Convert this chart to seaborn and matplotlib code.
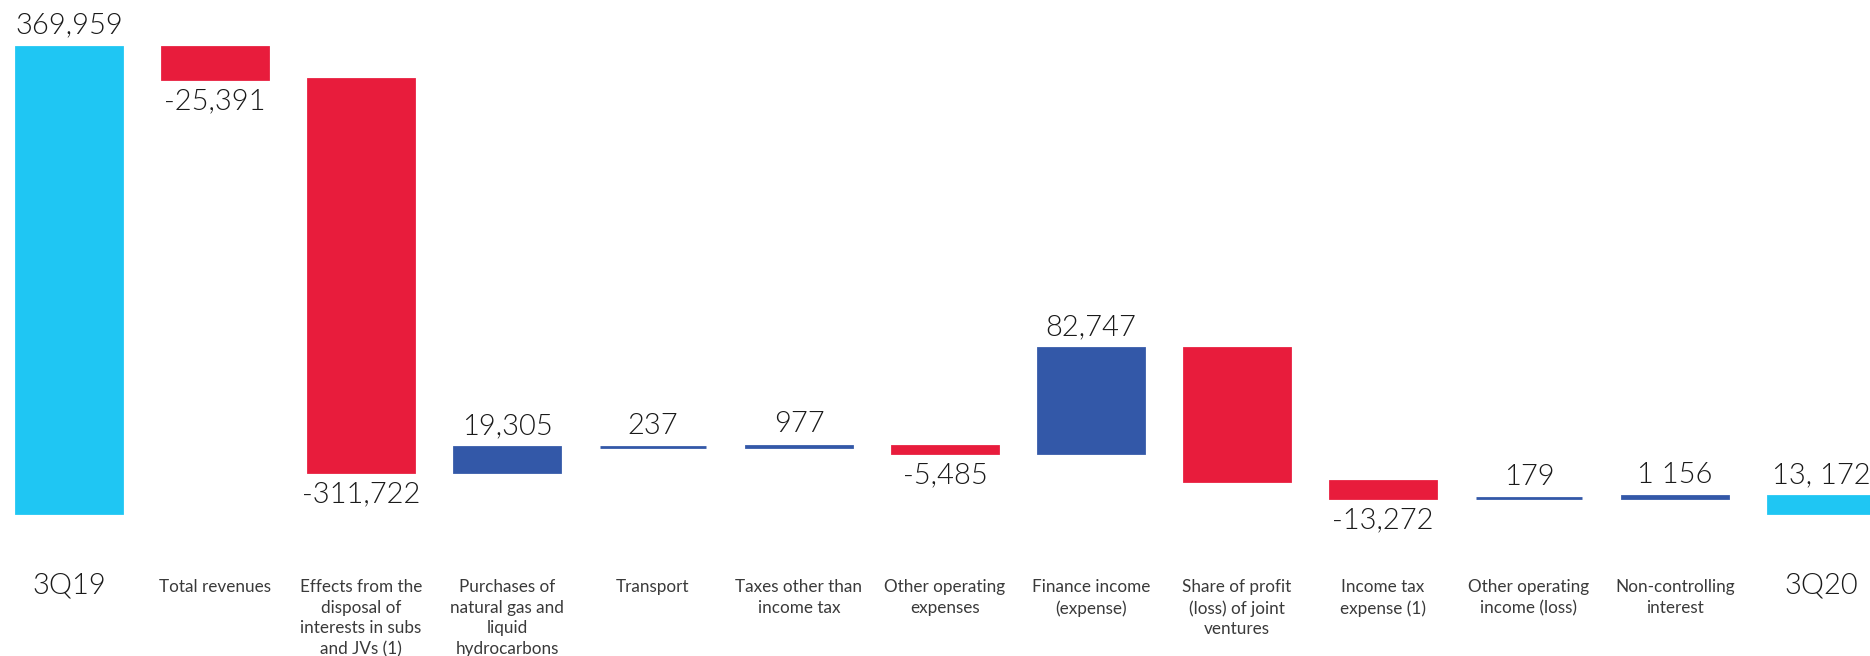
import matplotlib
matplotlib.use("Agg")
import matplotlib.pyplot as plt
import matplotlib.transforms as mtransforms
import seaborn as sns
import pandas as pd

# Profit bridge 3Q19 -> 3Q20 (thousand units)
categories = [
    "3Q19",
    "Total revenues",
    "Effects from the\ndisposal of\ninterests in subs\nand JVs (1)",
    "Purchases of\nnatural gas and\nliquid\nhydrocarbons",
    "Transport",
    "Taxes other than\nincome tax",
    "Other operating\nexpenses",
    "Finance income\n(expense)",
    "Share of profit\n(loss) of joint\nventures",
    "Income tax\nexpense (1)",
    "Other operating\nincome (loss)",
    "Non-controlling\ninterest",
    "3Q20",
]
start_value = 369959
changes = [-25391, -311722, 19305, 237, 977, -5485, 82747, -105518, -13272, 179, 1156]
end_value = 13172
value_labels = ["369,959", "-25,391", "-311,722", "19,305", "237", "977", "-5,485",
                "82,747", "", "-13,272", "179", "1 156", "13, 172"]

CYAN, RED, BLUE = "#1FC6F3", "#E81C3C", "#3358A8"

# Build waterfall segments: bottoms and signed heights
heights = [start_value] + changes + [end_value]
bottoms = [0]
running = start_value
for d in changes:
    bottoms.append(running)
    running += d
bottoms.append(0)
kinds = ["total"] + ["pos" if d >= 0 else "neg" for d in changes] + ["total"]
colors = [CYAN if k == "total" else (BLUE if k == "pos" else RED) for k in kinds]

df = pd.DataFrame({"category": categories, "height": heights})

sns.set_theme(style="white")
plt.rcParams["font.family"] = ["Lato", "DejaVu Sans"]

fig = plt.figure(figsize=(18.7, 6.56), dpi=100)
ax = fig.add_axes([0, 0, 1, 1])

sns.barplot(data=df, x="category", y="height", hue="category",
            palette=dict(zip(categories, colors)), legend=False,
            width=0.726, ax=ax, saturation=1)

# Lift each bar onto its running base
for patch, b, c in zip(ax.patches, bottoms, colors):
    patch.set_y(b)
    patch.set_edgecolor(c)
    patch.set_linewidth(2.0)

ax.set_xlim(-0.4726, 12.336)
ax.set_ylim(-113530, 407273)
ax.axis("off")

BIG = dict(fontsize=21, color="#1a1a1a", fontweight=300)

# Value labels
for i, (b, h, k, lab) in enumerate(zip(bottoms, heights, kinds, value_labels)):
    if not lab:
        continue
    top, low = max(b, b + h), min(b, b + h)
    if k == "neg":
        ax.annotate(lab, xy=(i, low), xytext=(0, -7), textcoords="offset points",
                    ha="center", va="top", **BIG)
    else:
        ax.annotate(lab, xy=(i, top), xytext=(0, 6), textcoords="offset points",
                    ha="center", va="bottom", **BIG)

# Category labels below the bars
trans = mtransforms.blended_transform_factory(ax.transData, ax.transAxes)
for i, (cat, k) in enumerate(zip(categories, kinds)):
    if k == "total":
        ax.text(i, 0.128, cat, transform=trans, ha="center", va="top", **BIG)
    else:
        ax.text(i, 0.117, cat, transform=trans, ha="center", va="top",
                fontsize=12.3, color="#3a3a3a", linespacing=1.35)

fig.savefig("out.png", dpi=100, facecolor="white")
